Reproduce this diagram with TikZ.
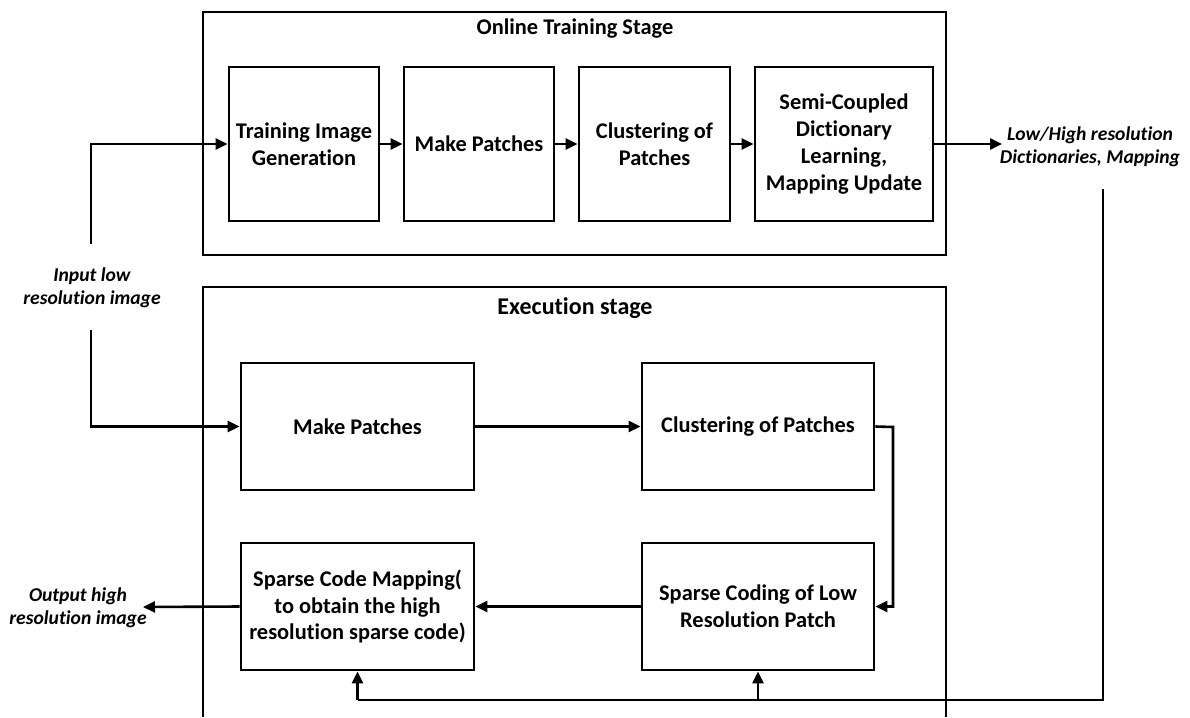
\documentclass[tikz,border=0pt]{standalone}
\usepackage{fontspec}
\setmainfont{Carlito}[Ligatures=NoCommon]
\usetikzlibrary{arrows.meta}
\tikzset{
  box/.style={draw, line width=2.8pt, rectangle, align=center, inner sep=2pt,
    font=\fontsize{22.4}{26.8}\selectfont\bfseries},
  lbl/.style={align=center, font=\fontsize{19.6}{23.5}\selectfont\bfseries\itshape},
  ttl/.style={font=\fontsize{22.4}{26.8}\selectfont\bfseries},
  arr/.style={line width=2.6pt, -{Triangle[length=12pt,width=11pt]}},
  ln/.style={line width=2.6pt},
  frame/.style={line width=2.8pt}
}
\begin{document}
\begin{tikzpicture}[x=1pt,y=-1pt]
\useasboundingbox (0,0) rectangle (1190,717);
% stage frames
\node[draw, frame, minimum width=743pt, minimum height=243pt, inner sep=0pt] (online) at (574.5,133.5) {};
\node[ttl] (onlinettl) at (575,29) {Online Training Stage};
\draw[frame] (203,717) -- (203,287) -- (946,287) -- (946,717);
\node[ttl, font=\fontsize{24}{28}\selectfont\bfseries] (execttl) at (575,308) {Execution stage};
% training boxes
\node[box, minimum width=150pt, minimum height=154pt] (tig) at (304,144) {Training Image\\Generation};
\node[box, minimum width=150pt, minimum height=154pt] (mp1) at (479,144) {Make Patches};
\node[box, minimum width=151pt, minimum height=154pt] (cl1) at (654.5,144) {Clustering of\\Patches};
\node[box, minimum width=178pt, minimum height=154pt] (sc) at (844,144) {Semi-Coupled\\Dictionary\\Learning,\\Mapping Update};
% execution boxes
\node[box, minimum width=233pt, minimum height=127pt] (mp2) at (357.5,426.5) {Make Patches};
\node[box, minimum width=232pt, minimum height=127pt] (cl2) at (758,426.5) {Clustering of Patches};
\node[box, minimum width=232pt, minimum height=127pt] (spc) at (758,606.5) {Sparse Coding of Low\\Resolution Patch};
\node[box, minimum width=233pt, minimum height=127pt] (scm) at (357.5,606.5) {Sparse Code Mapping(\\to obtain the high\\resolution sparse code)};
% labels
\node[lbl] (inlbl) at (92,288) {Input low\\resolution image};
\node[lbl] (dictlbl) at (1090,147) {Low/High resolution\\Dictionaries, Mapping};
\node[lbl] (outlbl) at (78,608) {Output high\\resolution image};
% coordinates
\coordinate (in1) at (91,244);
\coordinate (in2) at (91,330);
\coordinate (dout) at (1002,144);
\coordinate (dtop) at (1103,189);
\coordinate (dbot) at (1103,700);
\coordinate (outend) at (143,607);
\coordinate (cl2r) at (893,427);
% connectors
\draw[arr] (in1) |- (tig.west);
\draw[arr] (in2) |- (mp2.west);
\draw[arr] (tig) -- (mp1);
\draw[arr] (mp1) -- (cl1);
\draw[arr] (cl1) -- (sc);
\draw[arr] (sc.east) -- (dout);
\draw[arr] (mp2) -- (cl2);
\draw[arr] (cl2.east) -- (cl2r) |- (spc.east);
\draw[arr] (spc) -- (scm);
\draw[arr] (scm.west) -- (outend);
\draw[ln] (dtop) -- (dbot) -- (scm.south |- dbot);
\draw[arr] (scm.south |- dbot) -- (scm.south);
\draw[arr] (spc.south |- dbot) -- (spc.south);
\end{tikzpicture}
\end{document}
